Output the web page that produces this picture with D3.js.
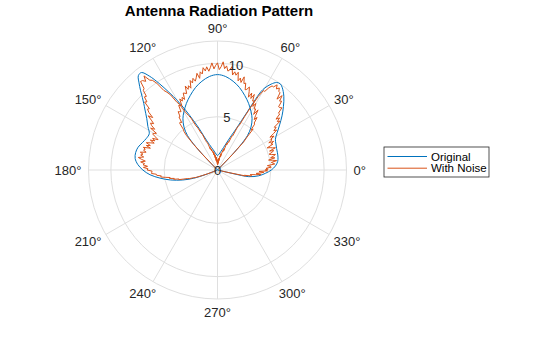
<!DOCTYPE html>
<html>
<head>
<meta charset="utf-8">
<script src="https://cdn.jsdelivr.net/npm/d3@7"></script>
<style>
  html, body { margin: 0; padding: 0; background: #fff; }
  svg { display: block; }
  text { font-family: "Liberation Sans", Arial, Helvetica, sans-serif; fill: #262626; }
</style>
</head>
<body>
<svg id="chart" width="560" height="337"></svg>
<script>
// ---- data -------------------------------------------------------------
const titleText = "Antenna Radiation Pattern";
const seriesNames = ["Original", "With Noise"];
const seriesColors = ["#0072BD", "#D95319"];

const thetaTicks = [0, 30, 60, 90, 120, 150, 180, 210, 240, 270, 300, 330];
const thetaTickLabels = ["0°", "30°", "60°", "90°", "120°", "150°", "180°", "210°", "240°", "270°", "300°", "330°"];
const rTicks = [0, 5, 10];
const rTickLabels = ["0", "5", "10"];
const rMax = 12.1;

// side wings of the pattern (angle in degrees, radius)
const wingAngles = [-14, -13, -12, -8, -4, 0, 4, 8, 12, 16, 20, 24, 28, 32, 36, 40, 44, 48, 52, 54,
  56, 58, 60, 61, 62, 63, 64, 66, 68, 70, 75, 80, 85, 90, 95, 100, 105, 110, 114, 116,
  118, 120, 122, 124, 126, 128, 130, 132, 134, 136, 138, 140, 144, 148, 152, 156, 160, 164, 168, 172,
  176, 180, 184, 188, 192, 196, 199, 201, 203];
const wingOriginal = [0, 1.6, 3.0, 3.9, 4.5, 5.05, 5.45, 5.7, 5.8, 5.85, 5.9, 6.0, 6.15, 6.6, 7.2, 7.9, 8.6, 9.3, 9.85, 10.0,
  9.9, 9.5, 8.9, 8.4, 7.2, 6.0, 5.2, 4.1, 3.5, 3.0, 2.18, 1.74, 1.48, 1.35, 1.5, 1.8, 2.2, 2.9, 4.3, 5.2,
  6.3, 7.5, 8.6, 9.8, 10.9, 11.6, 11.55, 11.0, 10.4, 9.8, 9.3, 8.9, 8.2, 7.7, 7.25, 7.3, 7.5, 7.75, 7.85, 7.8,
  7.5, 7.0, 6.35, 5.45, 4.5, 3.4, 2.4, 1.2, 0];

// broadside main lobe
const lobeAngles = [45.5, 46, 47, 49, 52, 56, 60, 65, 70, 75, 80, 85, 90,
  95, 100, 105, 110, 115, 120, 124, 128, 131, 133, 134, 134.5];
const lobeOriginal = [0, 1.5, 3.0, 4.3, 5.1, 5.8, 6.3, 6.9, 7.45, 8.0, 8.45, 8.8, 8.95,
  8.8, 8.45, 8.0, 7.45, 6.9, 6.3, 5.8, 5.1, 4.3, 3.0, 1.5, 0];

// measured (noisy) samples, one per degree
const noisyWingAngles = d3.range(-14, 204, 1);
const noisyWing = [
  0.2, 1.1, 2.7, 2.6, 3.25, 3.2, 3.1, 3.6, 4.1, 3.65,
  4.0, 4.35, 3.9, 4.7, 4.45, 4.75, 4.55, 5.05, 4.95, 4.7,
  5.4, 5.25, 5.1, 5.62, 5.25, 4.88, 5.5, 5.11, 5.42, 5.63,
  5.25, 5.06, 5.37, 5.58, 5.2, 5.82, 5.55, 5.37, 5.1, 5.74,
  5.57, 5.91, 5.45, 5.85, 5.77, 6.18, 5.8, 6.25, 6.7, 6.45,
  6.8, 6.67, 7.45, 7.22, 7.6, 7.27, 7.85, 7.82, 8.4, 8.27,
  8.25, 8.82, 8.7, 9.24, 8.68, 9.32, 9.35, 9.63, 9.4, 9.75,
  9.4, 9.4, 9.1, 8.6, 8.6, 7.9, 6.8, 5.7, 4.7, 4.45,
  3.5, 3.5, 2.8, 2.85, 2.5, 2.65, 1.9, 2.1, 1.75, 1.88,
  1.6, 1.3, 1.6, 1.22, 1.34, 0.89, 1.13, 0.98, 0.63, 1.08,
  0.75, 0.92, 0.5, 0.77, 0.5, 0.98, 0.61, 0.94, 0.77, 1.2,
  0.96, 1.22, 0.88, 1.44, 1.3, 1.18, 1.76, 1.44, 1.72, 1.7,
  2.04, 1.88, 2.22, 2.06, 2.7, 2.75, 3.0, 3.65, 3.8, 4.35,
  4.6, 5.45, 5.8, 6.2, 7.1, 7.45, 8.3, 8.7, 9.0, 9.95,
  10.4, 10.55, 11.2, 10.7, 10.95, 11.0, 10.3, 10.2, 9.6, 9.7,
  9.2, 9.35, 8.6, 8.7, 8.4, 7.82, 8.25, 7.77, 7.4, 7.67,
  7.45, 7.02, 7.4, 6.68, 6.87, 6.96, 6.55, 6.26, 6.77, 6.48,
  6.9, 6.45, 6.8, 7.15, 6.7, 7.06, 6.62, 7.28, 7.05, 7.18,
  6.9, 7.43, 7.15, 7.34, 7.03, 7.52, 7.2, 6.82, 7.25, 6.87,
  7.0, 6.57, 6.95, 6.52, 6.6, 6.14, 6.17, 6.2, 5.75, 5.72,
  5.3, 5.37, 4.95, 4.5, 4.57, 4.13, 4.2, 3.72, 3.75, 3.27,
  2.9, 2.77, 2.33, 2.2, 1.5, 1.0, 0.4, 0.1];
const noisyLobeAngles = d3.range(45, 136, 1);
const noisyLobe = [
  0.2, 2.0, 3.6, 4.05, 5.1, 4.87, 5.53, 5.6, 6.17, 5.85,
  6.22, 6.8, 6.22, 6.75, 6.67, 7.2, 6.82, 7.34, 7.26, 7.88,
  7.4, 7.9, 7.42, 7.93, 8.34, 8.05, 7.96, 8.57, 8.48, 9.09,
  8.5, 8.89, 8.58, 9.37, 9.06, 9.35, 9.02, 9.79, 9.46, 9.33,
  9.8, 9.53, 10.16, 9.69, 9.42, 10.05, 9.82, 9.49, 10.06, 9.63,
  9.3, 9.73, 9.36, 9.69, 9.12, 9.35, 8.76, 9.27, 8.88, 8.59,
  8.9, 8.49, 8.78, 8.07, 8.36, 8.05, 8.44, 7.73, 7.82, 7.9,
  7.3, 7.58, 7.26, 7.54, 6.92, 7.0, 7.07, 6.45, 6.52, 6.6,
  6.12, 6.15, 5.57, 5.7, 5.63, 4.97, 4.8, 4.35, 3.3, 2.0,
  0.2];

// ---- layout -----------------------------------------------------------
const cx = 217.5, cy = 170, R = 129;
const svg = d3.select("#chart");
const rad = d => d * Math.PI / 180;
const rScale = d3.scaleLinear().domain([0, rMax]).range([0, R]);
const gridColor = "#dfdfdf";

const g = svg.append("g").attr("transform", `translate(${cx},${cy})`);

// grid circles
g.selectAll("circle.grid")
  .data(rTicks.filter(d => d > 0).concat([rMax]))
  .join("circle")
  .attr("r", d => rScale(d))
  .attr("fill", "none")
  .attr("stroke", gridColor)
  .attr("stroke-width", 1);

// spokes
g.selectAll("line.spoke")
  .data(thetaTicks)
  .join("line")
  .attr("x1", 0).attr("y1", 0)
  .attr("x2", d => rScale(rMax) * Math.cos(rad(d)))
  .attr("y2", d => -rScale(rMax) * Math.sin(rad(d)))
  .attr("stroke", gridColor)
  .attr("stroke-width", 1);

// curves: angle in degrees counter-clockwise from east
const zip = (a, b) => a.map((v, i) => [v, b[i]]);
const smoothRadial = d3.lineRadial()
  .angle(d => rad(90 - d[0]))
  .radius(d => rScale(d[1]))
  .curve(d3.curveCatmullRom.alpha(0.5));
const rawRadial = d3.lineRadial()
  .angle(d => rad(90 - d[0]))
  .radius(d => rScale(d[1]))
  .curve(d3.curveLinear);

const originalParts = [zip(wingAngles, wingOriginal), zip(lobeAngles, lobeOriginal)];
const noisyParts = [zip(noisyWingAngles, noisyWing), zip(noisyLobeAngles, noisyLobe)];

g.selectAll("path.orig")
  .data(originalParts)
  .join("path")
  .attr("class", "orig")
  .attr("d", smoothRadial)
  .attr("fill", "none")
  .attr("stroke", seriesColors[0])
  .attr("stroke-width", 1);

g.selectAll("path.noisy")
  .data(noisyParts)
  .join("path")
  .attr("class", "noisy")
  .attr("d", rawRadial)
  .attr("fill", "none")
  .attr("stroke", seriesColors[1])
  .attr("stroke-width", 1)
  .attr("stroke-linejoin", "round");

// theta tick labels, pushed outward depending on direction
const labelR = 136;
g.selectAll("text.theta")
  .data(thetaTicks)
  .join("text")
  .attr("class", "theta")
  .attr("font-size", 13)
  .attr("text-anchor", "middle")
  .text((d, i) => thetaTickLabels[i])
  .each(function (d) {
    const w = this.getComputedTextLength();
    const a = rad(d);
    const x = labelR * Math.cos(a) + Math.cos(a) * w / 2;
    const y = -labelR * Math.sin(a) - Math.sin(a) * 6;
    d3.select(this).attr("x", x).attr("y", y).attr("dy", "0.35em");
  });

// radial tick labels along the 80 degree ray
const rAxisAngle = rad(80);
g.selectAll("text.rtick")
  .data(rTicks)
  .join("text")
  .attr("class", "rtick")
  .attr("font-size", 13)
  .attr("text-anchor", "middle")
  .attr("x", d => rScale(d) * Math.cos(rAxisAngle))
  .attr("y", d => -rScale(d) * Math.sin(rAxisAngle))
  .attr("dy", "0.35em")
  .text((d, i) => rTickLabels[i]);

// title
svg.append("text")
  .attr("x", 219)
  .attr("y", 15.5)
  .attr("text-anchor", "middle")
  .attr("font-size", 15)
  .attr("font-weight", "bold")
  .style("fill", "#000")
  .text(titleText);

// legend
const lg = svg.append("g").attr("transform", "translate(384,147)");
lg.append("rect")
  .attr("x", 0).attr("y", 0)
  .attr("width", 105).attr("height", 30)
  .attr("fill", "#fff")
  .attr("stroke", "#262626")
  .attr("stroke-width", 0.8);
seriesNames.forEach((name, i) => {
  const yy = 9.5 + i * 11.7;
  lg.append("line")
    .attr("x1", 3.5).attr("x2", 43)
    .attr("y1", yy).attr("y2", yy)
    .attr("stroke", seriesColors[i])
    .attr("stroke-width", 1);
  lg.append("text")
    .attr("x", 47)
    .attr("y", yy)
    .attr("dy", "0.35em")
    .attr("font-size", 11.5)
    .style("fill", "#000")
    .text(name);
});
</script>
</body>
</html>
